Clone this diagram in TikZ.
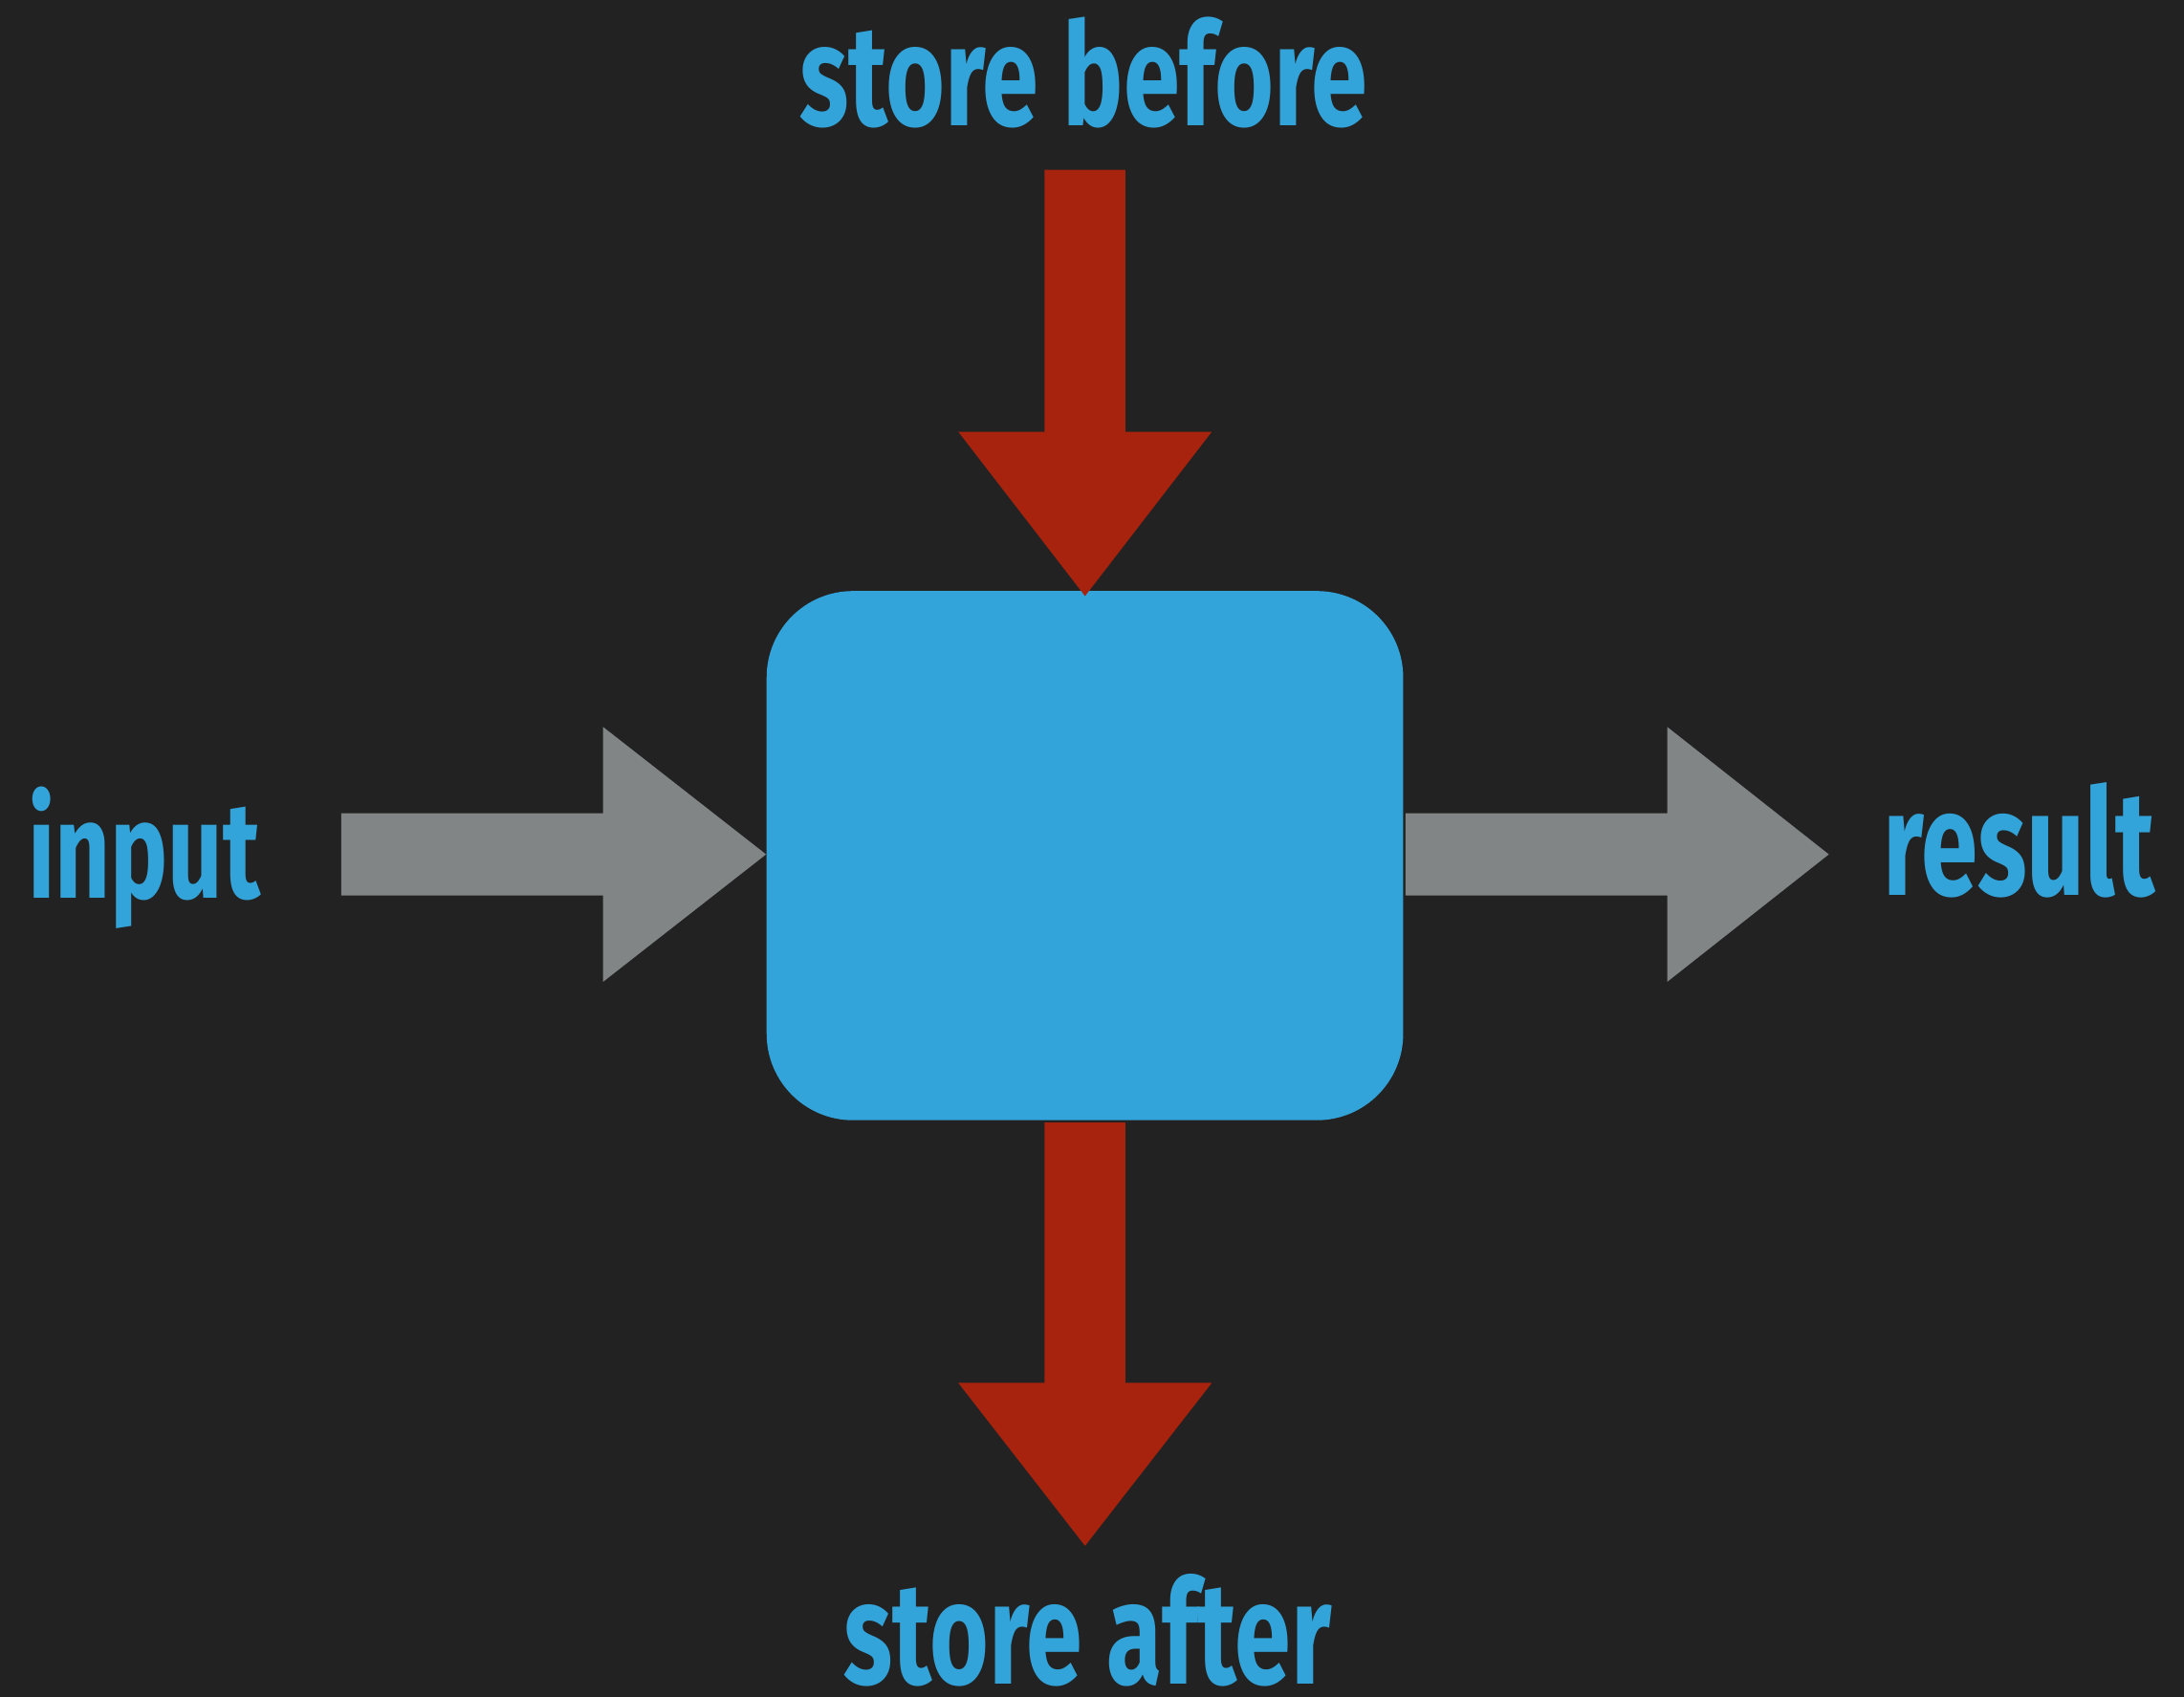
\documentclass[tikz,border=0pt]{standalone}
\usepackage{fontspec}
\setmainfont{Fira Sans}
\usepackage{graphicx}
\definecolor{bgc}{HTML}{222222}
\definecolor{boxblue}{HTML}{33A4DA}
\definecolor{arrred}{HTML}{A8230E}
\definecolor{arrgray}{HTML}{818585}
\tikzset{
  lbl/.style={inner sep=0pt, outer sep=0pt, text=boxblue, font=\bfseries},
  redarrow/.style={fill=arrred, draw=none},
  grayarrow/.style={fill=arrgray, draw=none},
}
\begin{document}
\begin{tikzpicture}[x=0.5pt, y=-0.5pt]
\useasboundingbox (0,0) rectangle (1568,1218);
\fill[bgc] (-10,-10) rectangle (1578,1228);
% central box
\node[fill=boxblue, rounded corners=31pt, minimum width=228.5pt, minimum height=190pt, inner sep=0pt, anchor=north west] (box) at (550,424) {};
% top red arrow
\fill[redarrow] (750,122) -- (808,122) -- (808,310) -- (870,310) -- (779,428) -- (688,310) -- (750,310) -- cycle;
% bottom red arrow
\fill[redarrow] (750,806) -- (808,806) -- (808,993) -- (870,993) -- (779,1110) -- (688,993) -- (750,993) -- cycle;
% left gray arrow
\fill[grayarrow] (245,584) -- (433,584) -- (433,522) -- (550,613.5) -- (433,705) -- (433,643) -- (245,643) -- cycle;
% right gray arrow
\fill[grayarrow] (1009,584) -- (1197,584) -- (1197,522) -- (1313,613.5) -- (1197,705) -- (1197,643) -- (1009,643) -- cycle;
% labels
\node[lbl, anchor=south west] (before) at (574,92) {\resizebox{204pt}{39pt}{store before}};
\node[lbl, anchor=south west] (after) at (606,1211) {\resizebox{175pt}{39.5pt}{store after}};
\node[lbl, anchor=south west] (input) at (20,667) {\resizebox{83.5pt}{40pt}{input}};
\node[lbl, anchor=south west] (result) at (1352,645) {\resizebox{97.5pt}{40.5pt}{result}};
\end{tikzpicture}
\end{document}
